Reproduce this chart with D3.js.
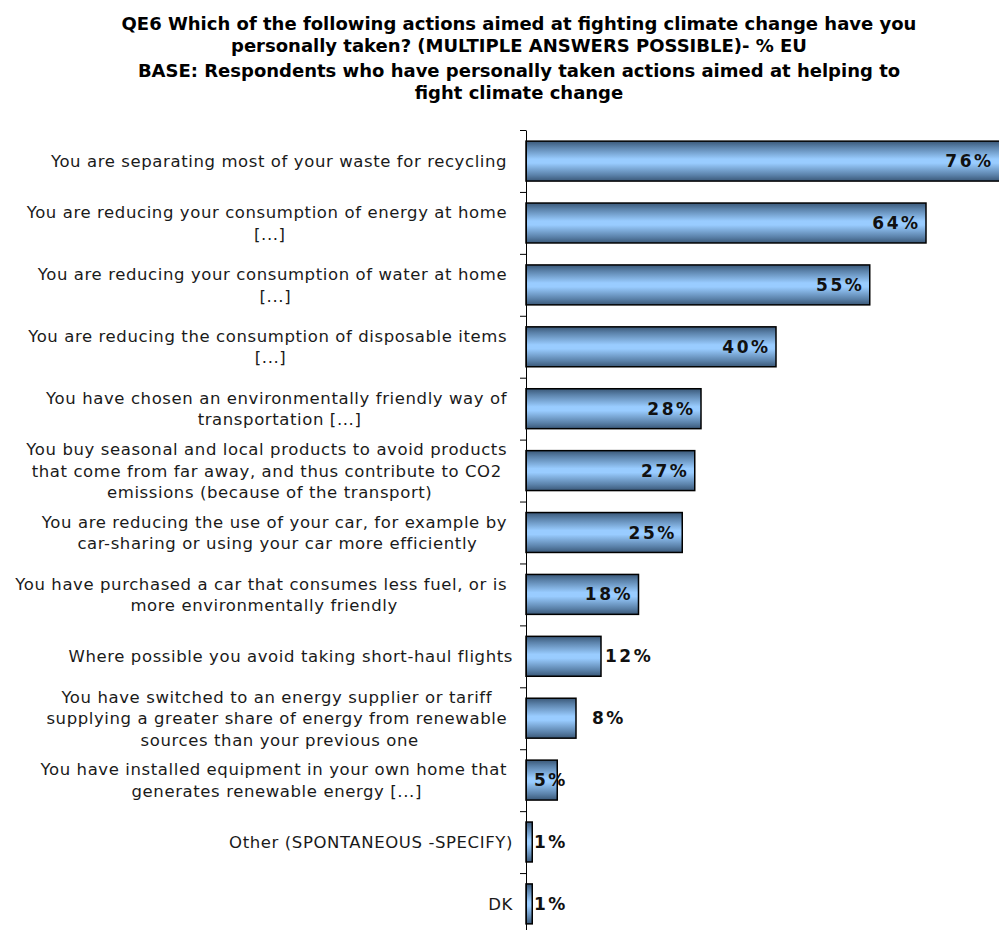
<!DOCTYPE html>
<html><head><meta charset="utf-8">
<script src="https://cdn.jsdelivr.net/npm/d3@7"></script>
<style>body{margin:0;background:#fff;} svg{display:block;} .pre{white-space:pre;}</style>
</head><body>
<script>
const titleLines = [
  "QE6 Which of the following actions aimed at fighting climate change have you",
  "personally taken? (MULTIPLE ANSWERS POSSIBLE)- % EU",
  "BASE: Respondents who have personally taken actions aimed at helping to",
  "fight climate change"
];
const categories = [
  ["You are separating most of your waste for recycling "],
  ["You are reducing your consumption of energy at home ", "[...]"],
  ["You are reducing your consumption of water at home ", "[...]"],
  ["You are reducing the consumption of disposable items ", "[...]"],
  ["You have chosen an environmentally friendly way of ", "transportation [...]"],
  ["You buy seasonal and local products to avoid products ", "that come from far away, and thus contribute to CO2 ", "emissions (because of the transport)"],
  ["You are reducing the use of your car, for example by ", "car-sharing or using your car more efficiently"],
  ["You have purchased a car that consumes less fuel, or is ", "more environmentally friendly"],
  ["Where possible you avoid taking short-haul flights"],
  ["You have switched to an energy supplier or tariff ", "supplying a greater share of energy from renewable ", "sources than your previous one"],
  ["You have installed equipment in your own home that ", "generates renewable energy [...]"],
  ["Other (SPONTANEOUS -SPECIFY)"],
  ["DK"]
];
const values = [76, 64, 55, 40, 28, 27, 25, 18, 12, 8, 5, 1, 1];

const W = 999, H = 930;
const svg = d3.select("body").append("svg").attr("width", W).attr("height", H);

const defs = svg.append("defs");
const grad = defs.append("linearGradient").attr("id", "barGrad")
  .attr("x1", 0).attr("y1", 0).attr("x2", 0).attr("y2", 1);
[[0, "#3a5878"], [0.15, "#5b82aa"], [0.45, "#99ccff"], [0.55, "#99ccff"], [0.85, "#5b82aa"], [1, "#3a5878"]]
  .forEach(([o, c]) => grad.append("stop").attr("offset", o).attr("stop-color", c));

// Title
const title = svg.append("g").attr("font-family", "DejaVu Sans, Verdana, sans-serif")
  .attr("font-weight", "bold").attr("font-size", 18).attr("fill", "#000").attr("text-anchor", "middle");
const titleY = [30, 52, 77, 99];
titleLines.forEach((t, i) => title.append("text").attr("x", 519).attr("y", titleY[i]).text(t));

const axisX = 526;
const plotTop = 130, plotBottom = 935;
const x = d3.scaleLinear().domain([0, 100]).range([axisX, axisX + 625]);
const y = d3.scaleBand().domain(d3.range(categories.length)).range([plotTop, plotBottom]).paddingInner(0.355).paddingOuter(0.18);

const g = svg.append("g");

// bars
g.selectAll("rect.bar").data(values).join("rect").attr("class", "bar")
  .attr("x", x(0)).attr("y", (d, i) => y(i))
  .attr("width", d => x(d) - x(0)).attr("height", y.bandwidth())
  .attr("fill", "url(#barGrad)").attr("stroke", "#000").attr("stroke-width", 1.5);

// axis
const yAxis = d3.axisLeft(d3.scaleLinear().domain([0, categories.length]).range([plotTop, plotBottom]))
  .tickValues(d3.range(0, categories.length + 1)).tickFormat("").tickSize(6).tickSizeOuter(0);
const ax = svg.append("g").attr("transform", `translate(${axisX},0)`).call(yAxis);
ax.select(".domain").attr("stroke", "#000");
ax.selectAll(".tick line").attr("stroke", "#000");

// category labels
const labG = svg.append("g").attr("font-family", "DejaVu Sans, Verdana, sans-serif")
  .attr("font-size", 16.5).attr("letter-spacing", 0.6).attr("fill", "#1a1a1a");
const lineH = 21.5;
const rowH = (plotBottom - plotTop) / categories.length;
categories.forEach((lines, i) => {
  const cy = plotTop + (i + 0.5) * rowH;
  const t = labG.append("text").attr("class", "pre").attr("text-anchor", "middle");
  const spans = lines.map((l, k) => t.append("tspan").text(l)
    .attr("y", cy + (k - (lines.length - 1) / 2) * lineH + 6));
  let maxW = 0;
  spans.forEach(s => { maxW = Math.max(maxW, s.node().getComputedTextLength()); });
  const cx = 513 - maxW / 2;
  spans.forEach(s => s.attr("x", cx));
});

// value labels
const valG = svg.append("g").attr("font-family", "DejaVu Sans, Verdana, sans-serif")
  .attr("font-weight", "bold").attr("font-size", 17).attr("letter-spacing", 2.5).attr("fill", "#111");
values.forEach((v, i) => {
  const cy = plotTop + (i + 0.5) * rowH + 6;
  const end = Math.min(x(v), W);
  const w = end - x(0);
  const t = valG.append("text").attr("y", cy).text(v + "%");
  if (w > 90) {
    t.attr("text-anchor", "end").attr("x", end - 8 + 2.5);
  } else if (w > 40) {
    t.attr("text-anchor", "start").attr("x", end + (w > 60 ? 4 : 16));
  } else {
    t.attr("text-anchor", "start").attr("x", x(0) + 8);
  }
});
</script>
</body></html>
